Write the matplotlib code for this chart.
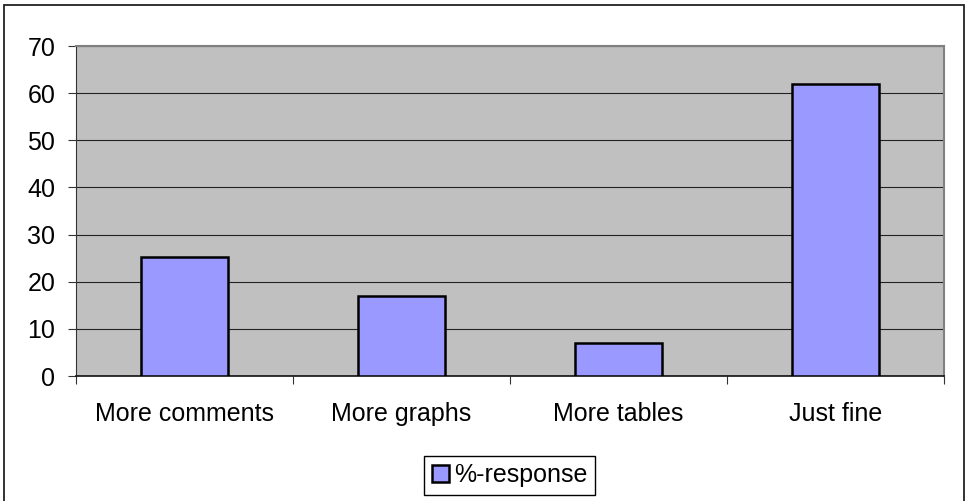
import matplotlib
matplotlib.use('Agg')
import matplotlib.pyplot as plt
from matplotlib.patches import Rectangle

categories = ['More comments', 'More graphs', 'More tables', 'Just fine']
response = [25.2, 17.0, 7.0, 62.0]
y_ticks = [0, 10, 20, 30, 40, 50, 60, 70]

plt.rcParams['font.family'] = ['Liberation Sans', 'DejaVu Sans']
plt.rcParams['font.size'] = 18

W, H = 965, 501
fig = plt.figure(figsize=(W / 100, H / 100), dpi=100)

# outer chart border (bottom edge runs off the picture)
fig.patches.append(Rectangle((4 / W, -0.05), 960 / W, 1 - 5 / H + 0.05,
                             transform=fig.transFigure, fill=False,
                             edgecolor='#222222', linewidth=1.3))

ax = fig.add_axes([76 / W, 1 - 376 / H, 868 / W, 330 / H])
ax.set_facecolor('#C0C0C0')

x = range(len(categories))
ax.bar(x, response, width=0.404, color='#9999FF', edgecolor='black',
       linewidth=1.8, label='%-response', zorder=3)

ax.set_xlim(-0.5, len(categories) - 0.5)
ax.set_ylim(0, 70)
ax.set_yticks(y_ticks)
ax.yaxis.grid(True, color='#222222', linewidth=0.8, zorder=1)
ax.set_axisbelow(True)

# ticks at category boundaries, labels at centres
ax.set_xticks([i - 0.5 for i in range(len(categories) + 1)])
ax.set_xticklabels([])
ax.set_xticks(list(x), minor=True)
ax.set_xticklabels(categories, minor=True)
ax.tick_params(axis='x', which='major', length=6, width=0.8, color='#333333', direction='out')
ax.tick_params(axis='x', which='minor', length=0, pad=19)
ax.tick_params(axis='y', length=6, width=0.8, color='#333333', direction='out', pad=9)

for side in ['top', 'right']:
    ax.spines[side].set_color('#808080')
    ax.spines[side].set_linewidth(1.5)
ax.spines['left'].set_color('#333333')
ax.spines['bottom'].set_color('#111111')
ax.spines['left'].set_linewidth(0.8)
ax.spines['bottom'].set_linewidth(1.2)

leg = fig.legend(loc='center', bbox_to_anchor=(509.5 / W, 1 - 475 / H),
                 handlelength=0.7, handleheight=0.7, handletextpad=0.2,
                 borderpad=0.3, fancybox=False, framealpha=1)
leg.get_frame().set_edgecolor('black')
leg.get_frame().set_linewidth(1.0)

fig.savefig('out.png', dpi=100)
